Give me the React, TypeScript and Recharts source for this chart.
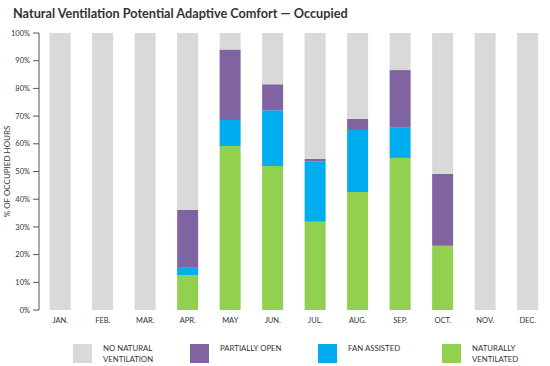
import { BarChart, Bar, XAxis, YAxis, Legend } from "recharts";

const months = ["JAN.", "FEB.", "MAR.", "APR.", "MAY", "JUN.", "JUL.", "AUG.", "SEP.", "OCT.", "NOV.", "DEC."];
const naturallyVentilated = [0, 0, 0, 12.6, 59.2, 52.0, 31.9, 42.6, 54.9, 23.2, 0, 0];
const fanAssisted = [0, 0, 0, 2.9, 9.4, 20.1, 21.8, 22.4, 11.1, 0, 0, 0];
const partiallyOpen = [0, 0, 0, 20.6, 25.4, 9.4, 0.9, 4.0, 20.6, 25.9, 0, 0];
const noNatural = [100, 100, 100, 63.9, 6.0, 18.5, 45.4, 31.0, 13.4, 50.9, 100, 100];
const yTicks = [0, 10, 20, 30, 40, 50, 60, 70, 80, 90, 100];
const boundaryTicks = [0, 1, 2, 3, 4, 5, 6, 7, 8, 9, 10, 11, 12];

const data = months.map((month, i) => ({
  month,
  natural: naturallyVentilated[i],
  fan: fanAssisted[i],
  partial: partiallyOpen[i],
  none: noNatural[i],
}));

const FONT = "Lato, 'Open Sans', sans-serif";
const legendLeft: Record<string, number> = { none: 73, partial: 190, fan: 318, natural: 442 };

function LegendContent({ payload }: any) {
  const items = [...(payload || [])].reverse();
  return (
    <div style={{ position: "relative", width: 550, height: 28, fontFamily: FONT }}>
      {items.map((it: any) => {
        const lines = String(it.value).split("\n");
        return (
          <div key={it.dataKey} style={{ position: "absolute", left: legendLeft[it.dataKey], top: 0 }}>
            <div style={{ position: "absolute", left: 0, top: 8, width: 19, height: 19, background: it.color }} />
            <div style={{ position: "absolute", left: 30, top: 7, fontSize: 7.8, lineHeight: "10.7px", color: "#333", whiteSpace: "nowrap" }}>
              {lines.map((l) => (
                <div key={l}>{l}</div>
              ))}
            </div>
          </div>
        );
      })}
    </div>
  );
}

export default function App() {
  return (
    <div style={{ position: "absolute", left: 0, top: 0, width: 550, height: 366, background: "#fff", fontFamily: FONT }}>
      <div style={{ position: "absolute", left: 13, top: 5, fontSize: 12.7, fontWeight: 700, color: "#333", whiteSpace: "nowrap" }}>
        Natural Ventilation Potential Adaptive Comfort — Occupied
      </div>
      <BarChart width={550} height={366} data={data} margin={{ top: 33, right: 1, left: 0, bottom: 36 }} barCategoryGap="25%">
        <XAxis
          xAxisId="grid"
          type="number"
          domain={[0, 12]}
          ticks={boundaryTicks}
          tick={false}
          height={0}
          tickSize={4}
          stroke="#555"
          allowDataOverflow
        />
        <XAxis
          xAxisId="cat"
          dataKey="month"
          height={20}
          axisLine={false}
          tickLine={false}
          tick={{ fontSize: 7.5, fill: "#333", fontFamily: FONT }}
        />
        <YAxis
          width={39}
          domain={[0, 100]}
          ticks={yTicks}
          tickFormatter={(v) => `${v}%`}
          tick={{ fontSize: 7.5, fill: "#333", fontFamily: FONT }}
          tickSize={6}
          tickMargin={3}
          stroke="#555"
          label={{ value: "% OF OCCUPIED HOURS", angle: -90, position: "center", dx: -12, fontSize: 8, fill: "#333", fontFamily: FONT }}
        />
        <Legend verticalAlign="middle" layout="horizontal" align="center" wrapperStyle={{ top: 336, left: 0, width: 550 }} content={<LegendContent />} />
        <Bar xAxisId="cat" dataKey="natural" name={"NATURALLY\nVENTILATED"} stackId="a" fill="#92D050" isAnimationActive={false} />
        <Bar xAxisId="cat" dataKey="fan" name="FAN ASSISTED" stackId="a" fill="#00AEEF" isAnimationActive={false} />
        <Bar xAxisId="cat" dataKey="partial" name="PARTIALLY OPEN" stackId="a" fill="#8064A2" isAnimationActive={false} />
        <Bar xAxisId="cat" dataKey="none" name={"NO NATURAL\nVENTILATION"} stackId="a" fill="#D9D9D9" isAnimationActive={false} />
      </BarChart>
    </div>
  );
}
